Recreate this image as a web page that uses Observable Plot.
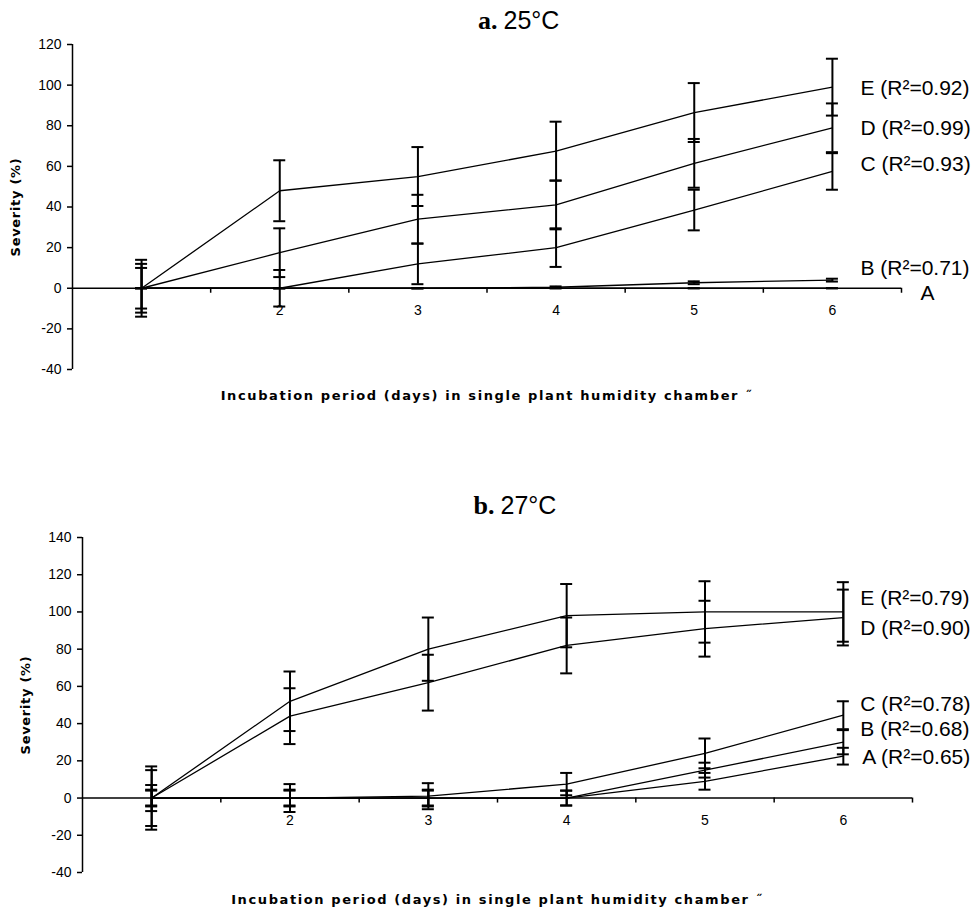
<!DOCTYPE html>
<html><head><meta charset="utf-8">
<script src="https://cdn.jsdelivr.net/npm/d3@7"></script>
<script src="https://cdn.jsdelivr.net/npm/@observablehq/plot@0.6"></script>
<style>
body{margin:0;background:#fff}
#chart svg{display:block}
</style>
</head><body><div id="chart"></div>
<script>
// ---- shared categories ----
const days = [1, 2, 3, 4, 5, 6];
const dayLabels = ["", "2", "3", "4", "5", "6"];
const seriesNames = ["A", "B", "C", "D", "E"];

// ---- panel a: 25°C ----
const a_title = ["a.", "25°C"];
const a_yTicks = [-40, -20, 0, 20, 40, 60, 80, 100, 120];
const a_A = [0, 0, 0, 0, 0, 0];
const a_B = [0, 0, 0, 0.5, 2.7, 4];
const a_C = [0, 0, 12, 20, 38.5, 57.5];
const a_D = [0, 17.5, 34, 41, 61.5, 79];
const a_E = [0, 48, 55, 67.5, 86.5, 99];
const a_A_err = [0, 0, 0, 0, 0, 0];
const a_B_err = [0, 0, 0, 0.4, 0.7, 0.7];
const a_C_err = [10, 9, 10, 9.5, 10, 9];
const a_D_err = [12, 12, 12, 12, 12, 12];
const a_E_err = [14, 15, 14.5, 14.5, 14.5, 14];
const a_labels = ["A", "B (R²=0.71)", "C (R²=0.93)", "D (R²=0.99)", "E (R²=0.92)"];

// ---- panel b: 27°C ----
const b_title = ["b.", "27°C"];
const b_yTicks = [-40, -20, 0, 20, 40, 60, 80, 100, 120, 140];
const b_A = [0, 0, 0, 0, 9, 22.5];
const b_B = [0, 0, 0, 0, 15, 30];
const b_C = [0, 0, 1, 7.5, 24, 44.5];
const b_D = [0, 44, 62, 82, 91, 97];
const b_E = [0, 52, 80, 98, 100, 100];
const b_A_err = [4, 4, 4, 4, 4.5, 4.5];
const b_B_err = [4.5, 4.5, 4.5, 4, 4, 6.5];
const b_C_err = [7, 7.5, 7, 6, 8, 7.5];
const b_D_err = [15, 15, 15, 15, 15, 15];
const b_E_err = [17, 16, 17, 17, 16.5, 16];
const b_labels = ["A (R²=0.65)", "B (R²=0.68)", "C (R²=0.78)", "D (R²=0.90)", "E (R²=0.79)"];

const xLabel = "Incubation period (days) in single plant humidity chamber \u02DD";
const yLabel = "Severity (%)";

function rows(values, errs) {
  const out = [];
  seriesNames.forEach((s, k) => {
    days.forEach((d, i) => {
      out.push({series: s, day: d, value: values[k][i], lo: values[k][i] - errs[k][i], hi: values[k][i] + errs[k][i]});
    });
  });
  return out;
}

function panel(cfg) {
  const data = rows(cfg.values, cfg.errs);
  const bounds = days.map(d => d + 0.5);
  const ticks = days.map((d, i) => ({day: d, label: dayLabels[i]}));
  const sans = "'Liberation Sans', Arial, sans-serif";
  const marks = [
    // y axis
    Plot.axisY({ticks: cfg.yTicks, tickFormat: d => String(d), tickSize: 5, tickPadding: 6, fontSize: 14, label: null, fontFamily: sans, strokeWidth: 1.5}),
    Plot.ruleX([days[0] - 0.5], {stroke: "black", strokeWidth: 1.5}),
    Plot.text([yLabel], {frameAnchor: "left", dx: -57, rotate: -90, fontSize: 13, fontWeight: "bold", fontFamily: "'DejaVu Sans', sans-serif", textAnchor: "middle", lineAnchor: "middle"}),
    // x axis at zero
    Plot.ruleY([0], {stroke: "black", strokeWidth: 1.5}),
    Plot.ruleX(bounds, {y1: 0, y2: 0, insetBottom: -5, stroke: "black", strokeWidth: 1.5}),
    Plot.text(ticks, {x: "day", y: 0, text: "label", dy: 22, fontSize: 14, fontFamily: sans, lineAnchor: "middle"}),
    Plot.text([xLabel], {frameAnchor: "bottom", dy: cfg.xTitleDy, fontSize: 13, fontWeight: "bold", fontFamily: "'DejaVu Sans', sans-serif", lineAnchor: "middle"}),
    // title
    Plot.text([cfg.title[0]], {frameAnchor: "top", dx: cfg.titleDx[0], dy: cfg.titleDy, textAnchor: "end", lineAnchor: "bottom", fontSize: 26, fontWeight: "bold", fontFamily: "'Liberation Serif', 'Times New Roman', serif"}),
    Plot.text([cfg.title[1]], {frameAnchor: "top", dx: cfg.titleDx[1], dy: cfg.titleDy, textAnchor: "start", lineAnchor: "bottom", fontSize: 25, fontFamily: sans}),
    // series lines
    Plot.line(data, {x: "day", y: "value", z: "series", stroke: "black", strokeWidth: 1.3}),
    // error bars
    Plot.ruleX(data, {x: "day", y1: "lo", y2: "hi", stroke: "black", strokeWidth: 2}),
    Plot.ruleY(data, {x1: "day", x2: "day", y: "hi", insetLeft: -6, insetRight: -6, stroke: "black", strokeWidth: 2}),
    Plot.ruleY(data, {x1: "day", x2: "day", y: "lo", insetLeft: -6, insetRight: -6, stroke: "black", strokeWidth: 2})
  ];
  // series end labels
  seriesNames.forEach((s, k) => {
    const last = cfg.values[k][days.length - 1];
    const off = cfg.labelOffsets[s];
    marks.push(Plot.text([{day: days[days.length - 1], value: last, label: cfg.labels[k]}], {
      x: "day", y: "value", text: "label", dx: off[0], dy: off[1], textAnchor: "start", lineAnchor: "middle",
      fontSize: 21, fontFamily: sans
    }));
  });
  const svg = Plot.plot({
    width: 975, height: 455,
    marginLeft: cfg.margin[3], marginRight: cfg.margin[1], marginTop: cfg.margin[0], marginBottom: cfg.margin[2],
    x: {domain: [days[0] - 0.5, days[days.length - 1] + 0.5], axis: null},
    y: {domain: [cfg.yTicks[0], cfg.yTicks[cfg.yTicks.length - 1]], axis: null},
    style: {background: "white", color: "black", overflow: "visible"},
    marks
  });
  // letter spacing for the wide bold axis titles
  d3.select(svg).selectAll("text").each(function() {
    const t = this.textContent;
    if (t === xLabel) this.setAttribute("letter-spacing", "1.6");
    if (t === yLabel) this.setAttribute("letter-spacing", "0.7");
  });
  return svg;
}

const chart = document.getElementById("chart");
chart.append(panel({
  title: a_title, yTicks: a_yTicks, labels: a_labels,
  values: [a_A, a_B, a_C, a_D, a_E], errs: [a_A_err, a_B_err, a_C_err, a_D_err, a_E_err],
  margin: [44, 74, 86, 72], titleDx: [10.5, 16.5], titleDy: -16, xTitleDy: 26,
  labelOffsets: {A: [88, 5], B: [28, -12], C: [28, -7], D: [28, 0], E: [28, 1]}
}));
chart.append(panel({
  title: b_title, yTicks: b_yTicks, labels: b_labels,
  values: [b_A, b_B, b_C, b_D, b_E], errs: [b_A_err, b_B_err, b_C_err, b_D_err, b_E_err],
  margin: [82, 63, 38, 82], titleDx: [-3, 3], titleDy: -24, xTitleDy: 27,
  labelOffsets: {A: [19, 1], B: [17, -13], C: [17, -11], D: [17, 10.5], E: [17, -14]}
}));
</script>
</body></html>
